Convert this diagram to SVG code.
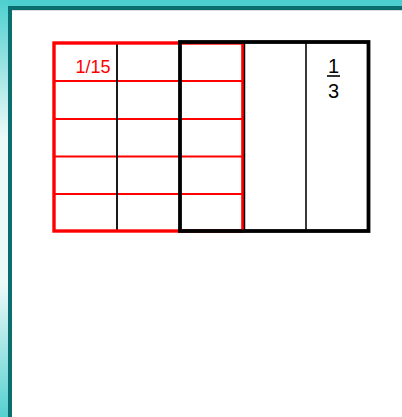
<svg xmlns="http://www.w3.org/2000/svg" width="402" height="417" viewBox="0 0 402 417">
<defs>
<linearGradient id="side" x1="0" y1="0" x2="0" y2="417" gradientUnits="userSpaceOnUse">
<stop offset="0" stop-color="#4ecfcf"/>
<stop offset="0.33" stop-color="#eef9f9"/>
<stop offset="0.68" stop-color="#eef9f9"/>
<stop offset="1" stop-color="#55d0d0"/>
</linearGradient>
</defs>
<style>
.red{stroke:#ff0000;fill:none}
.blk{stroke:#000;fill:none}
</style>
<rect x="0" y="0" width="402" height="417" fill="#ffffff"/>
<rect x="0" y="0" width="402" height="6" fill="#4ecfcf"/>
<rect x="0" y="0" width="8" height="417" fill="url(#side)"/>
<rect x="8" y="6" width="394" height="4" fill="#0b6e6e"/>
<rect x="8" y="6" width="4" height="411" fill="#0b6e6e"/>
<line x1="12" y1="10.5" x2="402" y2="10.5" stroke="#dcdcdc" stroke-width="1"/>
<g id="fifteenths">
<line class="red" x1="54" y1="81" x2="243" y2="81" stroke-width="2"/>
<line class="red" x1="54" y1="119" x2="243" y2="119" stroke-width="2"/>
<line class="red" x1="54" y1="156.5" x2="243" y2="156.5" stroke-width="2"/>
<line class="red" x1="54" y1="194" x2="243" y2="194" stroke-width="2"/>
<line class="blk" x1="117" y1="43" x2="117" y2="231" stroke-width="1.8"/>
<rect class="red" x="54" y="43" width="189" height="188" stroke-width="3.4"/>
<text x="75.5" y="73" font-family="Liberation Sans, Arial, sans-serif" font-size="18" fill="#ff0000">1/15</text>
</g>
<g id="thirds">
<line class="blk" x1="244.5" y1="42" x2="244.5" y2="231" stroke-width="1.5"/>
<line x1="306" y1="42" x2="306" y2="231" stroke="#222" stroke-width="1.8"/>
<rect class="blk" x="180" y="42" width="188.5" height="189" stroke-width="3.8"/>
<line class="red" x1="242.5" y1="44" x2="242.5" y2="229.5" stroke-width="1.6"/>
<text x="333.5" y="73" text-anchor="middle" font-family="Liberation Sans, Arial, sans-serif" font-size="20" fill="#000">1</text>
<line x1="327" y1="76" x2="340" y2="76" stroke="#000" stroke-width="1.6"/>
<text x="333.5" y="98" text-anchor="middle" font-family="Liberation Sans, Arial, sans-serif" font-size="20" fill="#000">3</text>
</g>
</svg>
